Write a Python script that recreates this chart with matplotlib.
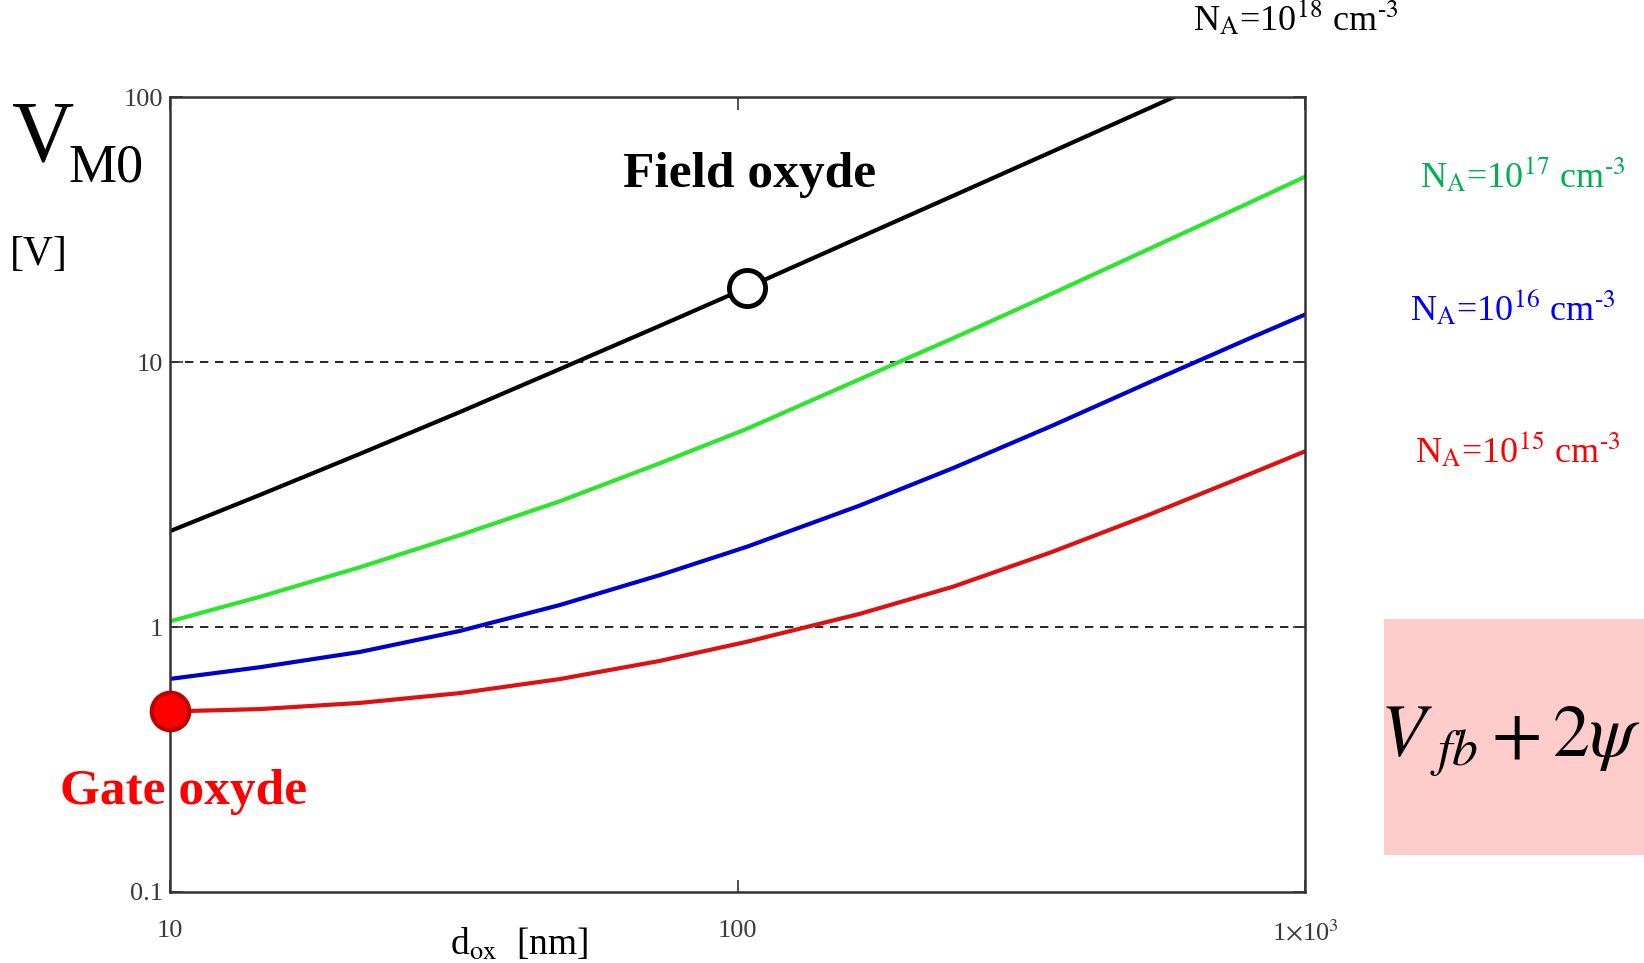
import numpy as np
import matplotlib
matplotlib.use('Agg')
import matplotlib.pyplot as plt

plt.rcParams['font.family'] = ['Liberation Serif', 'DejaVu Serif']
plt.rcParams['mathtext.fontset'] = 'stix'

# Oxide thickness d_ox [nm] and V_M0 [V]
dox = [10, 14.4, 21.6, 32.4, 48.6, 73, 104, 164, 240, 356, 533, 800, 1000]
vm0_na15 = [0.48, 0.49, 0.517, 0.563, 0.636, 0.745, 0.88, 1.12, 1.42, 1.91, 2.66, 3.78, 4.60]
vm0_na16 = [0.637, 0.705, 0.805, 0.966, 1.21, 1.57, 2.01, 2.87, 3.98, 5.71, 8.4, 12.3, 15.1]
vm0_na17 = [1.05, 1.30, 1.68, 2.22, 2.98, 4.15, 5.6, 8.6, 12.3, 18.0, 26.8, 40.0, 50.0]
vm0_na18 = [2.30, 3.15, 4.50, 6.47, 9.40, 13.7, 19.1, 29.5, 42.4, 61.8, 91.0, 135, 167]

# marked points
gate_point = (10, 0.48)
field_point = (104, 19.1)

x_ticks = [10, 100, 1000]
x_labels = ['10', '100', r'1$\times$10$^{3}$']
y_ticks = [0.1, 1, 10, 100]
y_labels = ['0.1', '1', '10', '100']

W, H = 1644, 963


def fx(x):
    return x / W


def fy(y):
    return 1 - y / H


fig = plt.figure(figsize=(W / 100, H / 100), dpi=100)
ax = fig.add_axes([fx(170), fy(892), (1305 - 170) / W, (892 - 97) / H])

ax.plot(dox, vm0_na18, color='black', lw=3)
ax.plot(dox, vm0_na17, color='#2ee52e', lw=3)
ax.plot(dox, vm0_na16, color='#0000cc', lw=3)
ax.plot(dox, vm0_na15, color='#dd1111', lw=3)

ax.set_xscale('log')
ax.set_yscale('log')
ax.set_xlim(10, 1000)
ax.set_ylim(0.1, 100)

# dashed lines at 1 and 10
for yv in [1, 10]:
    ax.axhline(yv, color='black', lw=1.2, ls=(0, (5, 4)), zorder=1)

ax.set_xticks(x_ticks)
ax.set_xticklabels(x_labels)
ax.set_yticks(y_ticks)
ax.set_yticklabels(y_labels)
ax.minorticks_off()
ax.tick_params(direction='in', length=9, width=1.2, color='#333333',
               top=True, right=True, labelsize=19, labelcolor='#3a3a3a', pad=5)
ax.tick_params(axis='x', pad=20)
for sp in ax.spines.values():
    sp.set_linewidth(1.8)
    sp.set_color('#333333')

# markers
ax.plot(*gate_point, 'o', ms=27, mfc='#ff0000', mec='#c00000', mew=3, clip_on=False, zorder=5)
ax.plot(*field_point, 'o', ms=26, mfc='white', mec='black', mew=3.5, clip_on=False, zorder=5)

# annotations
fig.text(fx(623), fy(175), 'Field oxyde', fontsize=37, fontweight='bold', color='black',
         ha='left', va='center')
fig.text(fx(60), fy(792), 'Gate oxyde', fontsize=37, fontweight='bold', color='#ff0000',
         ha='left', va='center')

# y axis label
fig.text(fx(12), fy(160), 'V', fontsize=62, ha='left', va='baseline')
fig.text(fx(68), fy(181), 'M0', fontsize=39, ha='left', va='baseline')
fig.text(fx(10), fy(255), '[V]', fontsize=30, ha='left', va='center')

# x axis label
fig.text(fx(450), fy(945), r'd$_{\mathrm{ox}}$  [nm]', fontsize=27, ha='left', va='center')

# doping labels
na_labels = [
    (1193, 30, '18', 'black'),
    (1420, 187, '17', '#00b050'),
    (1410, 320, '16', '#0000ff'),
    (1415, 462, '15', '#ff0000'),
]
for x, y, e, c in na_labels:
    fig.text(fx(x), fy(y), r'N$_{\mathrm{A}}$=10$^{%s}$ cm$^{\text{-3}}$' % e, fontsize=26,
             color=c, ha='left', va='baseline')

# pink formula box
fig.patches.append(plt.Rectangle((fx(1384), fy(855)), (W - 1384) / W, (855 - 619) / H,
                                 transform=fig.transFigure, facecolor='#ffcccc',
                                 edgecolor='none', zorder=0))
fig.text(fx(1380), fy(757), r'$V_{\ fb}+2\psi$', fontsize=53, ha='left', va='baseline')

fig.savefig('out.png', dpi=100)
